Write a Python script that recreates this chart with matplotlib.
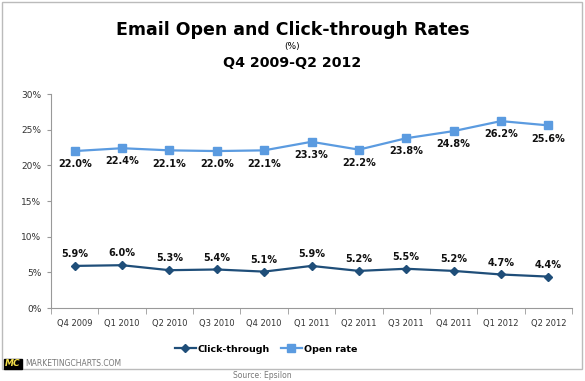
import matplotlib
matplotlib.use("Agg")
import matplotlib.pyplot as plt
from matplotlib.patches import Rectangle

# Data
quarters = ['Q4 2009', 'Q1 2010', 'Q2 2010', 'Q3 2010', 'Q4 2010', 'Q1 2011',
            'Q2 2011', 'Q3 2011', 'Q4 2011', 'Q1 2012', 'Q2 2012']
click_through = [5.9, 6.0, 5.3, 5.4, 5.1, 5.9, 5.2, 5.5, 5.2, 4.7, 4.4]
open_rate = [22.0, 22.4, 22.1, 22.0, 22.1, 23.3, 22.2, 23.8, 24.8, 26.2, 25.6]

W, H = 585, 381
fig = plt.figure(figsize=(W / 100, H / 100), dpi=100)
plt.rcParams['font.family'] = ['DejaVu Sans']

def fx(px):
    return px / W

def fy(py):
    return 1 - py / H

ax = fig.add_axes([fx(51), fy(308), fx(572 - 51), (308 - 94) / H])

x = list(range(len(quarters)))
dark = '#1f4e79'
light = '#5b9be0'

l1, = ax.plot(x, click_through, color=dark, lw=1.6, marker='D', ms=4,
              label='Click-through')
l2, = ax.plot(x, open_rate, color=light, lw=1.6, marker='s', ms=6,
              label='Open rate')

for i in x:
    ax.annotate(f'{click_through[i]:.1f}%', (i, click_through[i]),
                xytext=(0, 8.5), textcoords='offset points', ha='center',
                va='center', fontsize=7, fontweight='bold', color='#111111')
    ax.annotate(f'{open_rate[i]:.1f}%', (i, open_rate[i]),
                xytext=(0, -9.5), textcoords='offset points', ha='center',
                va='center', fontsize=7, fontweight='bold', color='#111111')

ax.set_xlim(-0.5, len(quarters) - 0.5)
ax.set_ylim(0, 30)
ax.set_yticks(range(0, 31, 5))
ax.set_yticklabels([f'{v}%' for v in range(0, 31, 5)], fontsize=6.5, color='#333333')
ax.set_xticks(x)
ax.set_xticklabels(quarters, fontsize=6, color='#333333')
ax.set_xticks([i - 0.5 for i in range(len(quarters) + 1)], minor=True)
ax.tick_params(axis='x', which='major', length=0, pad=8)
ax.tick_params(axis='x', which='minor', length=4, color='#999999')
ax.tick_params(axis='y', length=3, color='#999999', pad=4)
for s in ['top', 'right']:
    ax.spines[s].set_visible(False)
for s in ['left', 'bottom']:
    ax.spines[s].set_color('#999999')

# Titles
fig.text(0.5, fy(30), 'Email Open and Click-through Rates', ha='center', va='center',
         fontsize=12.5, fontweight='bold')
fig.text(0.5, fy(47), '(%)', ha='center', va='center', fontsize=6.5)
fig.text(0.5, fy(63), 'Q4 2009-Q2 2012', ha='center', va='center',
         fontsize=10.2, fontweight='bold')

# Legend
fig.legend(handles=[l1, l2], loc='center', bbox_to_anchor=(fx(266), fy(349)),
           ncol=2, frameon=False, prop={'size': 6.8, 'weight': 'bold'},
           handlelength=2.2, handletextpad=0.2, columnspacing=1.2)

# Border
fig.patches.append(Rectangle((fx(2), fy(369)), fx(580), (369 - 2) / H,
                             transform=fig.transFigure, fill=False,
                             edgecolor='#bbbbbb', lw=1))

# Logo
fig.patches.append(Rectangle((fx(4), fy(369)), fx(18), 10 / H,
                             transform=fig.transFigure, color='black'))
fig.text(fx(13), fy(364), 'MC', ha='center', va='center', fontsize=6.5,
         fontweight='bold', style='italic', color='#f5e04a')
fig.text(fx(25), fy(364), 'MARKETINGCHARTS.COM', ha='left', va='center',
         fontsize=5.5, color='#777777')
fig.text(fx(262), fy(375), 'Source: Epsilon', ha='center', va='center',
         fontsize=5.5, color='#777777')

fig.savefig('out.png', dpi=100)
